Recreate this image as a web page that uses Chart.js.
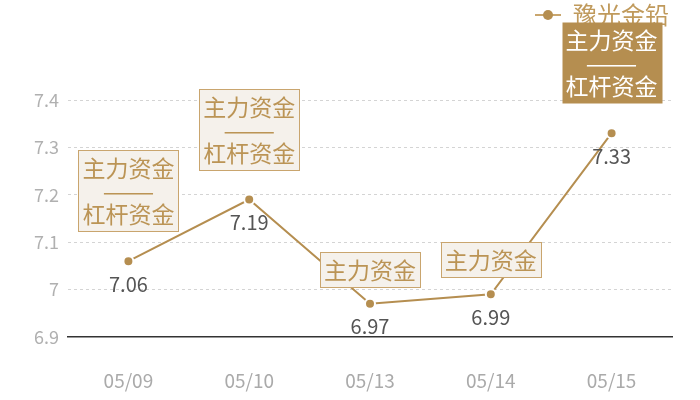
<!DOCTYPE html>
<html>
<head>
<meta charset="utf-8">
<script src="https://cdn.jsdelivr.net/npm/chart.js@4.4.1/dist/chart.umd.min.js"></script>
<style>
  html, body { margin: 0; padding: 0; background: #fff; }
  #wrap { width: 700px; height: 400px; }
</style>
</head>
<body>
<div id="wrap"><canvas id="chartPrice" width="700" height="400"></canvas></div>
<script>
// datos
const dates = ['05/09', '05/10', '05/13', '05/14', '05/15'];
const prices = [7.06, 7.19, 6.97, 6.99, 7.33];
const yTicks = [6.9, 7, 7.1, 7.2, 7.3, 7.4];
const seriesName = '豫光金铅';
const fundTags = [
  '主力资金\n——\n杠杆资金',
  '主力资金\n——\n杠杆资金',
  '主力资金',
  '主力资金',
  '主力资金\n——\n杠杆资金'
];
const highlightIndex = 4;

const gold = '#b58e50';
const font = '"Noto Sans CJK SC", "Noto Sans", sans-serif';

// legend icon: short line with a dot
const legendIcon = document.createElement('canvas');
legendIcon.width = 26;
legendIcon.height = 12;
(function () {
  const c = legendIcon.getContext('2d');
  c.strokeStyle = '#c9a66e';
  c.lineWidth = 2;
  c.beginPath();
  c.moveTo(0, 6);
  c.lineTo(26, 6);
  c.stroke();
  c.fillStyle = gold;
  c.beginPath();
  c.arc(13, 6, 5, 0, Math.PI * 2);
  c.fill();
})();

// legend takes the band above the plot
const legendBand = {
  id: 'legendBand',
  afterInit(chart) {
    const legend = chart.legend;
    const fit = legend.fit;
    legend.fit = function () {
      fit.call(this);
      this.height = 100;
    };
  }
};

// value labels + fund tag boxes
const fundTagPlugin = {
  id: 'fundTags',
  afterDraw(chart) {
    const ctx = chart.ctx;
    const meta = chart.getDatasetMeta(0);
    ctx.save();
    ctx.textAlign = 'center';
    ctx.textBaseline = 'middle';

    meta.data.forEach((pt, i) => {
      ctx.font = '20px ' + font;
      ctx.fillStyle = '#555';
      ctx.fillText(prices[i].toFixed(2), pt.x, pt.y + 23);
    });

    meta.data.forEach((pt, i) => {
      const lines = fundTags[i].split('\n');
      const lineH = 23;
      const w = 100;
      const h = lines.length * lineH + 12;
      const gap = lines.length > 1 ? 30 : 17;
      const left = Math.round(pt.x - w / 2) + 0.5;
      const top = Math.round(pt.y - gap - h) + 0.5;
      const hl = i === highlightIndex;

      ctx.fillStyle = hl ? gold : '#f5f1eb';
      ctx.fillRect(left, top, w, h);
      if (!hl) {
        ctx.strokeStyle = '#c9a56e';
        ctx.lineWidth = 1;
        ctx.strokeRect(left, top, w, h);
      }
      ctx.fillStyle = hl ? '#fff' : '#bb9455';
      ctx.font = '23px ' + font;
      lines.forEach((t, k) => {
        const cy = top + h / 2 + (k - (lines.length - 1) / 2) * lineH;
        if (/^—+$/.test(t)) {
          // dash row: stretched to ~52px like the original font
          const tw = ctx.measureText(t).width;
          ctx.save();
          ctx.translate(pt.x, cy);
          ctx.scale(52 / tw, 1);
          ctx.fillText(t, 0, 0);
          ctx.restore();
        } else {
          ctx.fillText(t, pt.x, cy);
        }
      });
    });
    ctx.restore();
  }
};

const data = {
  labels: dates,
  datasets: [{
    label: seriesName,
    data: prices,
    borderColor: gold,
    borderWidth: 2,
    backgroundColor: gold,
    pointRadius: 5,
    pointBackgroundColor: gold,
    pointBorderColor: '#fff',
    pointBorderWidth: 2,
    tension: 0
  }]
};

const config = {
  type: 'line',
  data: data,
  options: {
    responsive: false,
    animation: false,
    devicePixelRatio: 1,
    layout: { padding: { top: 0, right: 28, bottom: 0, left: 0 } },
    plugins: {
      legend: {
        display: true,
        position: 'top',
        align: 'end',
        labels: {
          usePointStyle: true,
          pointStyle: legendIcon,
          pointStyleWidth: 26,
          padding: 3,
          color: '#c09a5c',
          font: { size: 24, family: font }
        }
      },
      title: { display: false },
      tooltip: { enabled: false }
    },
    scales: {
      x: {
        offset: true,
        grid: { display: false },
        border: { display: true, color: '#333', width: 1.5 },
        ticks: {
          color: '#aaa',
          padding: 24,
          font: { size: 19, family: font }
        },
        afterFit(scale) { scale.height = 63; }
      },
      y: {
        min: 6.9,
        max: 7.4,
        afterBuildTicks(scale) {
          scale.ticks = yTicks.map(v => ({ value: v }));
        },
        grid: {
          drawTicks: false,
          color: c => (c.tick && c.tick.value === 6.9) ? 'rgba(0,0,0,0)' : '#d4d4d4',
          lineWidth: 1
        },
        border: { display: false, dash: [3, 3] },
        ticks: {
          color: '#b0b0b0',
          padding: 9,
          font: { size: 18, family: font },
          callback: v => String(v)
        },
        afterFit(scale) { scale.width = 68; }
      }
    }
  },
  plugins: [legendBand, fundTagPlugin]
};

const node = document.getElementById('chartPrice');
const chartPrice = new Chart(node, config);
</script>
</body>
</html>
